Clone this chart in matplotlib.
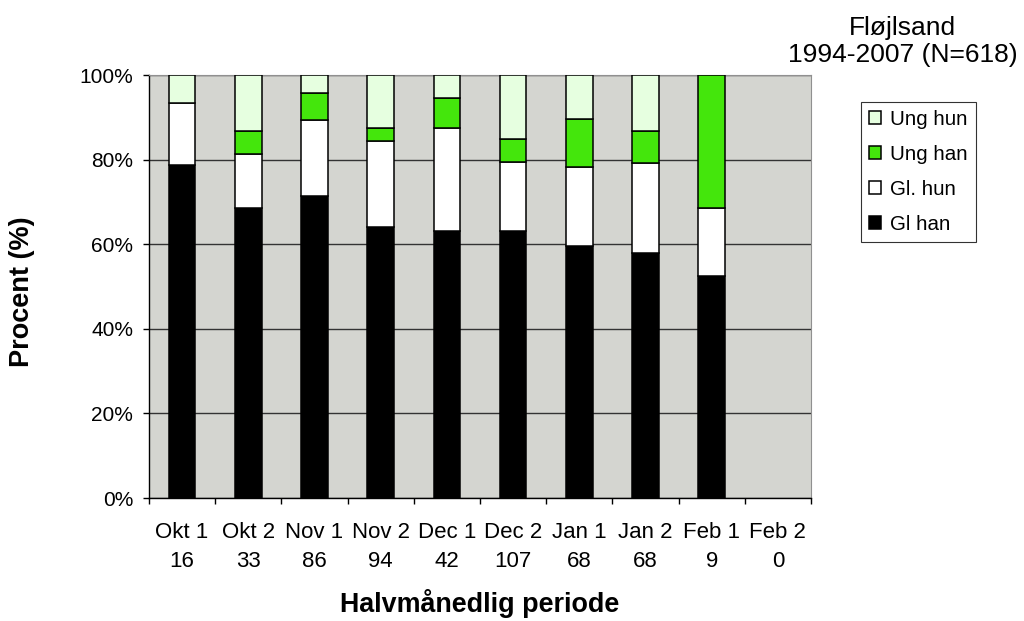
import numpy as np
import matplotlib
matplotlib.use("Agg")
import matplotlib.pyplot as plt
from matplotlib.ticker import PercentFormatter, FixedLocator

plt.rcParams['font.family'] = ['Liberation Sans', 'DejaVu Sans']

# halvmaanedlige perioder og antal fugle
periods = ["Okt 1", "Okt 2", "Nov 1", "Nov 2", "Dec 1", "Dec 2", "Jan 1", "Jan 2", "Feb 1", "Feb 2"]
counts = [16, 33, 86, 94, 42, 107, 68, 68, 9, 0]

# procent-andele (aflæst)
gl_han = [78.8, 68.7, 71.4, 64.0, 63.2, 63.2, 59.5, 58.0, 52.6, 0]
gl_hun = [14.6, 12.7, 17.9, 20.4, 24.4, 16.3, 18.7, 21.3, 15.9, 0]
ung_han = [0.0, 5.5, 6.5, 3.2, 6.9, 5.3, 11.5, 7.6, 31.5, 0]
ung_hun = [6.6, 13.1, 4.2, 12.4, 5.5, 15.2, 10.3, 13.1, 0.0, 0]

series = [
    ("Gl han", gl_han, "#000000"),
    ("Gl. hun", gl_hun, "#FFFFFF"),
    ("Ung han", ung_han, "#44E60C"),
    ("Ung hun", ung_hun, "#E6FFE0"),
]

fig = plt.figure(figsize=(10.24, 6.21), dpi=100)
ax = fig.add_axes([0.1455, 0.198, 0.6465, 0.681])
ax.set_facecolor("#D4D5D0")

x = np.arange(len(periods))
bottom = np.zeros(len(periods))
handles = []
for name, vals, col in series:
    vals = np.array(vals, dtype=float)
    keep = vals > 0
    ax.bar(x[keep], vals[keep], width=0.4, bottom=bottom[keep], color=col,
           edgecolor="black", linewidth=1.1, zorder=3)
    handles.append(plt.Rectangle((0, 0), 1, 1, facecolor=col, edgecolor="black", linewidth=1.1))
    bottom += vals

ax.set_xlim(-0.5, len(periods) - 0.5)
ax.set_ylim(0, 100)
ax.yaxis.set_major_locator(FixedLocator([0, 20, 40, 60, 80, 100]))
ax.yaxis.set_major_formatter(PercentFormatter(decimals=0))
ax.grid(axis="y", color="#333333", linewidth=1.0, zorder=1)

ax.set_xticks(np.arange(len(periods) + 1) - 0.5)
ax.set_xticklabels([])
ax.set_xticks(x, minor=True)
ax.set_xticklabels([f"{p}\n{n}" for p, n in zip(periods, counts)], minor=True,
                   fontsize=16, linespacing=1.5)
ax.tick_params(axis="x", which="minor", length=0, pad=17)
ax.tick_params(axis="x", which="major", length=4.5, width=1, direction="out")
ax.tick_params(axis="y", length=4.5, width=1, labelsize=15, pad=7)

for s in ["top", "right"]:
    ax.spines[s].set_color("#909090")
for s in ["left", "bottom"]:
    ax.spines[s].set_color("black")
    ax.spines[s].set_linewidth(1.0)

fig.text(0.468, 1 - 612 / 621, "Halvmånedlig periode", ha="center", va="baseline",
         fontsize=19.4, fontweight="bold")
fig.text(0.0215, 1 - 292 / 621, "Procent (%)", rotation=90, ha="center", va="center",
         fontsize=19.5, fontweight="bold")

fig.text(0.8813, 0.9332, "Fløjlsand\n1994-2007 (N=618)", ha="center", va="center",
         fontsize=19, linespacing=1.18)

leg = ax.legend(handles[::-1], [s[0] for s in series][::-1], loc="upper left",
                bbox_to_anchor=(0.8405, 0.8362), bbox_transform=fig.transFigure,
                frameon=True, fancybox=False, edgecolor="black", fontsize=14.8,
                handlelength=0.6, handleheight=0.6, handletextpad=0.44,
                labelspacing=0.78, borderpad=0.4, borderaxespad=0)
leg.get_frame().set_linewidth(0.8)

fig.savefig("out.png", dpi=100)
